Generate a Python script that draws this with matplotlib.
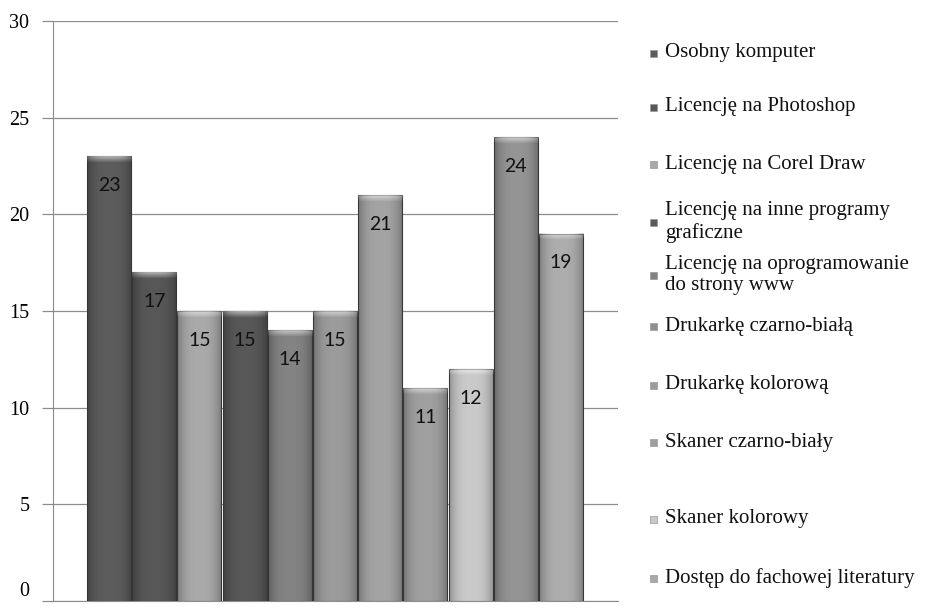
import numpy as np
import matplotlib.pyplot as plt
import matplotlib.colors as mcolors

# data
values = [23, 17, 15, 15, 14, 15, 21, 11, 12, 24, 19]
bar_grays = ['#5c5c5c', '#575757', '#a9a9a9', '#585858', '#838383', '#9b9b9b',
             '#a3a3a3', '#9f9f9f', '#c9c9c9', '#949494', '#adadad']
legend_labels = ['Osobny komputer', 'Licencję na Photoshop', 'Licencję na Corel Draw',
                 'Licencję na inne programy\ngraficzne',
                 'Licencję na oprogramowanie\ndo strony www',
                 'Drukarkę czarno-białą', 'Drukarkę kolorową', 'Skaner czarno-biały',
                 'Skaner kolorowy', 'Dostęp do fachowej literatury']
legend_grays = ['#5c5c5c', '#575757', '#a9a9a9', '#585858', '#838383', '#8f8f8f',
                '#9b9b9b', '#9f9f9f', '#c9c9c9', '#a8a8a8']
yticks = [0, 5, 10, 15, 20, 25, 30]

fig = plt.figure(figsize=(9.31, 6.08), dpi=100)
ax = fig.add_axes([53/931, 1-601/608, (618-53)/931, (601-21)/608])

x = np.arange(len(values))
bars = ax.bar(x, values, width=0.975, color=bar_grays, edgecolor='#4a4a4a',
              linewidth=0.8, zorder=3)

# shading on each bar: darker sides, light bevel on top
w = 64
prof = np.linspace(-1, 1, w)
side = np.abs(prof) ** 3
for b, c in zip(bars, bar_grays):
    x0, y0 = b.get_x(), b.get_y()
    bw, bh = b.get_width(), b.get_height()
    shade = np.zeros((1, w, 4))
    shade[..., 3] = 0.28 * side
    ax.imshow(shade, extent=[x0, x0 + bw, y0, y0 + bh], aspect='auto',
              zorder=4, clip_path=b, clip_on=True, interpolation='bicubic')
    top = np.zeros((8, w, 4))
    top[..., :3] = 1.0
    top[..., 3] = np.linspace(0.55, 0.0, 8)[:, None] * (1 - 0.6 * side)
    ax.imshow(top, extent=[x0, x0 + bw, y0 + bh - 0.35, y0 + bh], aspect='auto',
              zorder=5, clip_path=b, clip_on=True, interpolation='bilinear')
    ax.text(b.get_x() + bw / 2, bh - 1.5, str(int(bh)), ha='center', va='center',
            fontsize=14, family='Lato', color='#111111', zorder=6)

ax.set_xlim(-1.24, 11.26)
ax.set_ylim(0, 30)
ax.set_yticks(yticks)
ax.set_yticklabels([str(t) for t in yticks], family='Liberation Serif', fontsize=14.5)
ax.set_xticks([])
ax.grid(axis='y', color='#8c8c8c', linewidth=0.9, zorder=0)
ax.tick_params(axis='y', length=8, color='#8c8c8c', width=0.9, pad=9)
ax.get_yticklabels()[0].set_verticalalignment('bottom')
for s in ['top', 'right']:
    ax.spines[s].set_visible(False)
ax.spines['left'].set_color('#8c8c8c')
ax.spines['bottom'].set_color('#8c8c8c')

# legend placed by hand
leg_y = [53, 107, 164, 222, 275, 326, 385, 442, 519, 578]
for lab, col, yp in zip(legend_labels, legend_grays, leg_y):
    fy = 1 - yp / 608
    fig.patches.append(plt.Rectangle((650/931, fy - 3.5/608), 7/931, 7/608,
                                     transform=fig.transFigure, facecolor=col,
                                     edgecolor='#999999', linewidth=0.5))
    fig.text(665/931, fy, lab, ha='left', va='center', family='Liberation Serif',
             fontsize=15, color='#111111', linespacing=1.15)

fig.savefig('out.png', dpi=100)
